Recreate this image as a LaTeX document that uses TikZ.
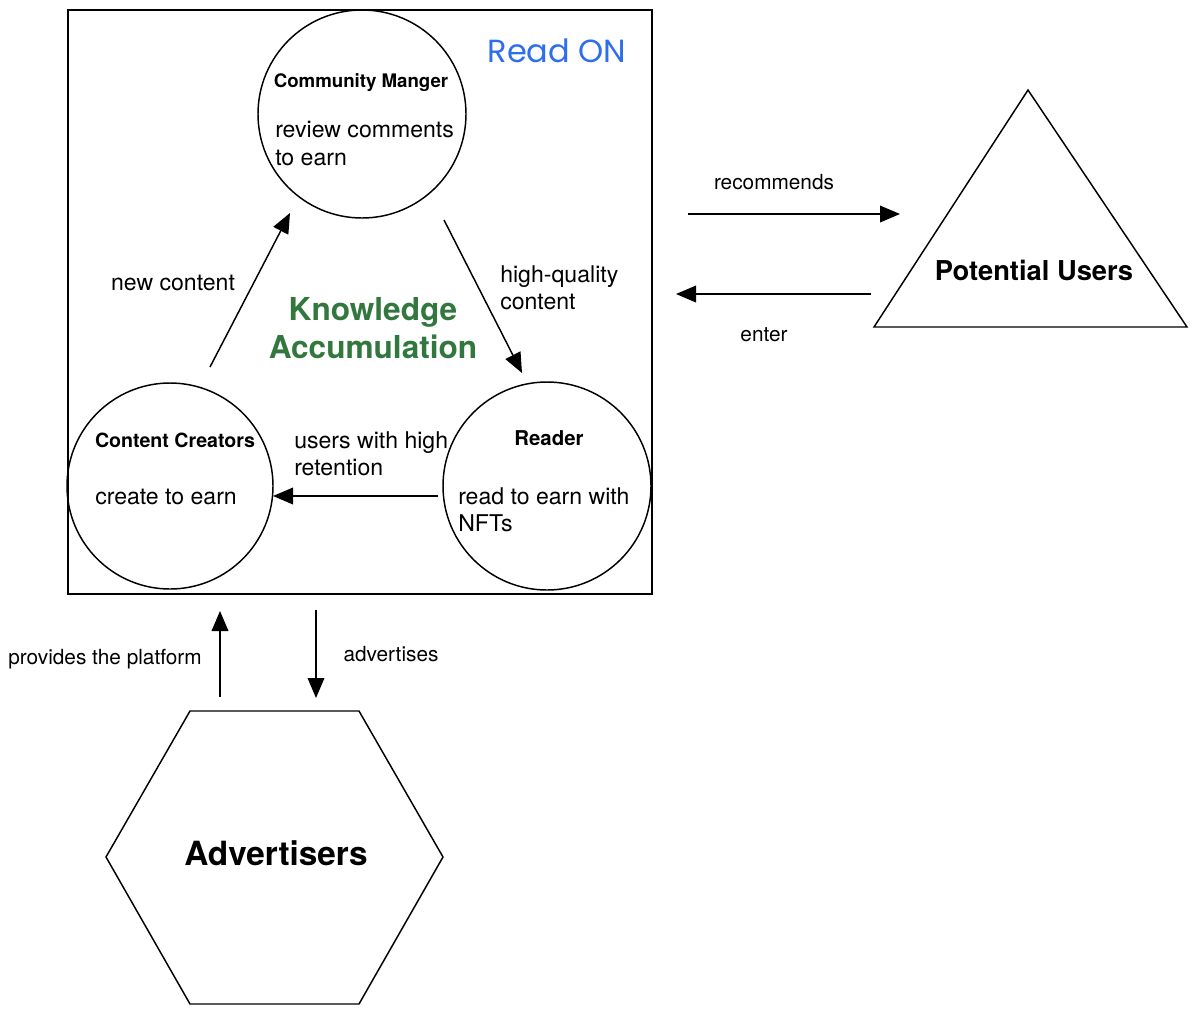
\documentclass[tikz,border=0pt]{standalone}
\usepackage{fontspec}
\setmainfont{TeX Gyre Heros}
\newfontfamily\handfont{Poppins}
\usetikzlibrary{arrows.meta}
\definecolor{kgreen}{RGB}{50,120,62}
\definecolor{roblue}{RGB}{45,110,235}
\tikzset{
  flow/.style={line width=1.1pt,-{Triangle[length=15pt,width=12.5pt]}},
  role/.style={draw,circle,line width=1.1pt,inner sep=0pt,minimum size=208*0.75pt},
  rtitle/.style={inner sep=0pt,font=\fontsize{14}{17}\selectfont\bfseries},
  rbody/.style={inner sep=0pt,align=left,anchor=west,font=\fontsize{17.3}{20.3}\selectfont},
  elabel/.style={inner sep=0pt,font=\fontsize{15.6}{18.7}\selectfont},
}
\begin{document}
\begin{tikzpicture}[x=0.75pt,y=0.75pt,yscale=-1,xscale=1]
\useasboundingbox (0,0) rectangle (1200,1015);

%Shape: Rectangle [id:platform]
\draw [line width=1.1pt] (68,10) rectangle (652,594);
%Shape: Circle [id:manager]
\node (cm) [role] at (362,114) {};
%Shape: Circle [id:creators]
\node (cc) [role,minimum size=206*0.75pt] at (170,486) {};
%Shape: Circle [id:reader]
\node (rd) [role] at (547,486) {};
%Shape: Triangle [id:potential]
\draw [line width=1.1pt] (1028,90) -- (1187,327) -- (874,327) -- cycle;
%Shape: Hexagon [id:advertisers]
\draw [line width=1.1pt] (190,711) -- (359,711) -- (443,857) -- (359,1004) -- (190,1004) -- (106,857) -- cycle;

%Arrow ends
\coordinate (nc-s) at (210,367);  \coordinate (nc-e) at (290,213);
\coordinate (hq-s) at (444,220);  \coordinate (hq-e) at (522,373);
\coordinate (ur-s) at (438,496);  \coordinate (ur-e) at (273,496);
\coordinate (rc-s) at (688,214);  \coordinate (rc-e) at (900,214);
\coordinate (en-s) at (871,294);  \coordinate (en-e) at (676,294);
\coordinate (pp-s) at (220,697);  \coordinate (pp-e) at (220,611);
\coordinate (ad-s) at (316,610);  \coordinate (ad-e) at (316,698);

%Straight Lines
\draw [flow] (nc-s) -- (nc-e);
\draw [flow] (hq-s) -- (hq-e);
\draw [flow] (ur-s) -- (ur-e);
\draw [flow] (rc-s) -- (rc-e);
\draw [flow] (en-s) -- (en-e);
\draw [flow] (pp-s) -- (pp-e);
\draw [flow] (ad-s) -- (ad-e);

% Text Node
\node (cm-t) [rtitle] at (361,83) {Community Manger};
\node (cm-b) [rbody] at (275,143.5) {review comments\\to earn};
% Text Node
\node (cc-t) [rtitle,font=\fontsize{14.7}{17}\selectfont\bfseries] at (175,440) {Content Creators};
\node (cc-b) [rbody] at (95,497) {create to earn};
% Text Node
\node (rd-t) [rtitle,font=\fontsize{15.3}{17}\selectfont\bfseries] at (549,438) {Reader};
\node (rd-b) [rbody] at (458,510) {read to earn with\\NFTs};
% Text Node
\node (ka) [inner sep=0pt,align=center,text=kgreen,font=\fontsize{23.7}{28.5}\selectfont\bfseries] at (373,328) {Knowledge\\Accumulation};
% Text Node
\node (ro) [inner sep=0pt,text=roblue,font=\handfont\fontsize{24}{28}\selectfont] at (557,51) {Read ON};
% Text Node
\node (nc-l) [rbody,anchor=center] at (173,283) {new content};
\node (hq-l) [rbody] at (500,287.5) {high-quality\\content};
\node (ur-l) [rbody] at (294,453.5) {users with high\\retention};
% Text Node
\node (rc-l) [elabel] at (774,182) {recommends};
\node (en-l) [elabel] at (764,335) {enter};
\node (pp-l) [elabel] at (105,659) {provides the platform};
\node (ad-l) [elabel] at (391,654) {advertises};
% Text Node
\node (pu) [inner sep=0pt,font=\fontsize{20.5}{24}\selectfont\bfseries] at (1034,270) {Potential Users};
\node (av) [inner sep=0pt,font=\fontsize{25}{30}\selectfont\bfseries] at (276,853) {Advertisers};

\end{tikzpicture}
\end{document}
